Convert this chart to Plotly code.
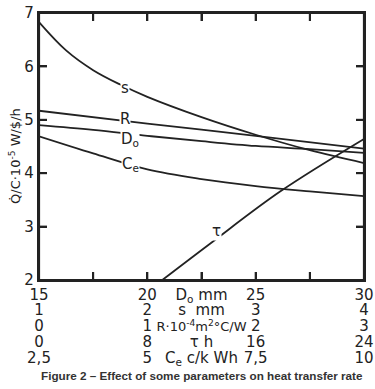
import plotly.graph_objects as go

# ---- data (each curve in its own parameter's units) ----
Do_mm = [15, 17.5, 20, 22.5, 25, 27.5, 30]
Q_Do = [4.90, 4.81, 4.70, 4.60, 4.51, 4.45, 4.38]

s_mm = [1.0, 1.25, 1.5, 1.75, 2.0, 2.5, 3.0, 3.5, 4.0]
Q_s = [6.83, 6.30, 5.93, 5.66, 5.43, 5.05, 4.72, 4.43, 4.19]

R_val = [0, 1, 2, 3]
Q_R = [5.17, 4.93, 4.70, 4.46]

tau_h = [8.69, 12.63, 17.83, 24]
Q_tau = [1.92, 2.68, 3.66, 4.64]

Ce_val = [2.5, 3.75, 5.0, 6.25, 7.5, 8.75, 10.0]
Q_Ce = [4.69, 4.37, 4.07, 3.89, 3.76, 3.66, 3.57]

y_ticks = [2, 3, 4, 5, 6, 7]

Do_ticks = [15, 17.5, 20, 22.5, 25, 27.5, 30]
Do_text = ["15", "", "20", "D<sub>o</sub> mm", "25", "", "30"]
s_ticks = [1, 2, 2.5, 3, 4]
s_text = ["1", "2", "s\u00a0\u00a0mm", "3", "4"]
R_ticks = [0, 1, 1.5, 2, 3]
R_text = ["0", "1", "<span style='font-size:13px'>R\u00b710<sup>-4</sup>m<sup>2</sup>\u00b0C/W</span>", "2", "3"]
tau_ticks = [0, 8, 12, 16, 24]
tau_text = ["0", "8", "\u03c4 h", "16", "24"]
Ce_ticks = [2.5, 5, 6.25, 7.5, 10]
Ce_text = ["2,5", "5", "C<sub>e</sub> c/k Wh", "7,5", "10"]

INK = "#222222"
FONT = "DejaVu Sans"
LW = 1.8
FW = 2.2   # frame width
TW = 2.0   # tick width

fig = go.Figure()
fig.add_trace(go.Scatter(x=Do_mm, y=Q_Do, xaxis="x", yaxis="y", mode="lines",
                         line=dict(color=INK, width=LW, shape="spline"), showlegend=False))
fig.add_trace(go.Scatter(x=s_mm, y=Q_s, xaxis="x2", yaxis="y", mode="lines",
                         line=dict(color=INK, width=LW, shape="spline"), showlegend=False))
fig.add_trace(go.Scatter(x=R_val, y=Q_R, xaxis="x3", yaxis="y", mode="lines",
                         line=dict(color=INK, width=LW, shape="spline"), showlegend=False))
fig.add_trace(go.Scatter(x=tau_h, y=Q_tau, xaxis="x4", yaxis="y", mode="lines",
                         line=dict(color=INK, width=LW, shape="spline"), showlegend=False))
fig.add_trace(go.Scatter(x=Ce_val, y=Q_Ce, xaxis="x5", yaxis="y", mode="lines",
                         line=dict(color=INK, width=LW, shape="spline"), showlegend=False))

tickfont = dict(family=FONT, size=15, color=INK)

def sub_axis(rng, tv, tt, standoff):
    # secondary parameter scales share the bottom edge; their labels are pushed
    # down into separate rows
    return dict(range=rng, overlaying="x", anchor="y", side="bottom",
                tickmode="array", tickvals=tv, ticktext=tt, ticks="", showline=False,
                showgrid=False, zeroline=False, tickfont=tickfont, automargin=False,
                tickangle=0, ticklabelstandoff=standoff)

frame_common = dict(ticks="inside", ticklen=8, tickwidth=TW, tickcolor=INK,
                    showline=True, linecolor=INK, linewidth=FW,
                    showgrid=False, zeroline=False, automargin=False)

fig.update_layout(
    width=375, height=389,
    margin=dict(l=39, r=11, t=13, b=20),
    paper_bgcolor="white", plot_bgcolor="rgba(0,0,0,0)",
    xaxis=dict(range=[15, 30], tickmode="array", tickvals=Do_ticks, ticktext=Do_text,
               tickfont=tickfont, tickangle=0, mirror="ticks", **frame_common),
    xaxis2=sub_axis([1, 4], s_ticks, s_text, 19),
    xaxis3=sub_axis([0, 3], R_ticks, R_text, 35),
    xaxis4=sub_axis([0, 24], tau_ticks, tau_text, 51),
    xaxis5=sub_axis([2.5, 10], Ce_ticks, Ce_text, 67),
    yaxis=dict(domain=[0.25, 1], range=[2, 7], tickmode="array", tickvals=y_ticks,
               tickfont=tickfont, mirror="ticks", **frame_common),
)

# frame box around the plotting area
fig.add_shape(type="rect", xref="x domain", yref="y domain", x0=0, x1=1, y0=0, y1=1,
              line=dict(color=INK, width=FW), fillcolor="rgba(0,0,0,0)", layer="above")

# inside tick marks on all four sides, placed through the axis scales
TX = 8 / 325.0   # tick length as fraction of x domain
TY = 8 / 267.0   # tick length as fraction of y domain
for v in Do_ticks[1:-1]:
    fig.add_shape(type="line", xref="x", yref="y domain", x0=v, x1=v, y0=0, y1=TY,
                  line=dict(color=INK, width=TW))
    fig.add_shape(type="line", xref="x", yref="y domain", x0=v, x1=v, y0=1 - TY, y1=1,
                  line=dict(color=INK, width=TW))
for v in y_ticks[1:-1]:
    fig.add_shape(type="line", xref="x domain", yref="y", x0=0, x1=TX, y0=v, y1=v,
                  line=dict(color=INK, width=TW))
    fig.add_shape(type="line", xref="x domain", yref="y", x0=1 - TX, x1=1, y0=v, y1=v,
                  line=dict(color=INK, width=TW))

# curve labels (white boxes break the lines like the original)
labels = [
    ("x", 18.95, 5.60, "s"),
    ("x", 18.95, 5.02, "R"),
    ("x", 19.2, 4.64, "D<sub>o</sub>"),
    ("x", 19.2, 4.17, "C<sub>e</sub>"),
    ("x", 23.2, 2.91, "\u03c4"),
]
for xr, xv, yv, txt in labels:
    fig.add_annotation(x=xv, y=yv, xref=xr, yref="y", text=txt, showarrow=False,
                       font=dict(family=FONT, size=15, color=INK), bgcolor="white",
                       borderpad=0)

# y-axis title
fig.add_annotation(x=-0.074, y=(369 - 156) / 356, xref="paper", yref="paper",
                   xanchor="center", yanchor="middle",
                   text="Q\u0307/C\u00b710<sup>-5</sup> W/$/h", textangle=-90,
                   showarrow=False, font=dict(family=FONT, size=13, color=INK))

# caption
fig.add_annotation(x=0.50, y=(369 - 375) / 356, xref="paper", yref="paper",
                   xanchor="center", yanchor="middle",
                   text="<b>Figure 2 \u2013 Effect of some parameters on heat transfer rate</b>",
                   showarrow=False, font=dict(family="Liberation Sans", size=11.7, color="#333333"))

fig.write_html("out.html", config={"displayModeBar": False},
               post_script="document.body.style.margin='0';document.body.style.overflow='hidden';")
